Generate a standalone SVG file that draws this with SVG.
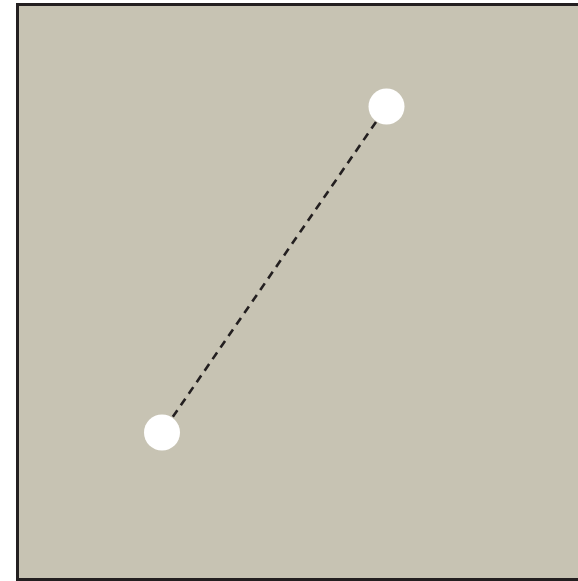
<svg xmlns="http://www.w3.org/2000/svg" width="578" height="581" viewBox="0 0 578 581">
<style>
.node{fill:#ffffff;stroke:none}
.conn{stroke:#231f20;stroke-width:2.6;stroke-dasharray:8 6;fill:none}
</style>
<rect x="17.5" y="4.5" width="580" height="575" fill="#c7c3b3" stroke="#231f20" stroke-width="3"/>
<g id="connectors">
<line class="conn" x1="376" y1="122" x2="172" y2="418"/>
</g>
<g id="node-top"><circle class="node" cx="386.5" cy="106.5" r="18"/></g>
<g id="node-bottom"><circle class="node" cx="162" cy="432.5" r="18"/></g>
</svg>
